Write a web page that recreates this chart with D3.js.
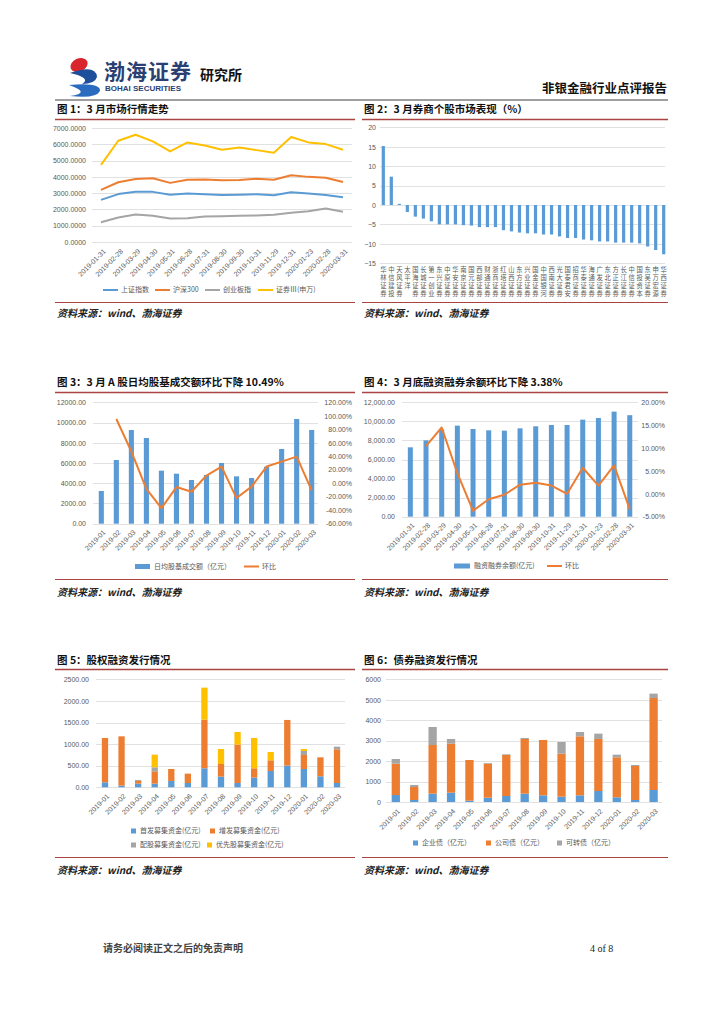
<!DOCTYPE html>
<html><head><meta charset="utf-8">
<script src="https://cdn.jsdelivr.net/npm/d3@7"></script>
<style>
body{margin:0;background:#fff;}
svg{display:block;}
</style></head><body>
<svg id="c" width="724" height="1024"></svg>
<script>
// ---------------- DATA ----------------
// Chart 1
const c1Dates = ["2019-01-31","2019-02-28","2019-03-29","2019-04-30","2019-05-31","2019-06-28","2019-07-31","2019-08-30","2019-09-30","2019-10-31","2019-11-29","2019-12-31","2020-01-23","2020-02-28","2020-03-31"];
const c1SH    = [2585,2941,3091,3078,2899,2979,2932,2886,2905,2929,2872,3050,2977,2880,2750];
const c1HS300 = [3201,3669,3872,3913,3630,3825,3835,3799,3814,3886,3828,4097,3999,3940,3686];
const c1CYB   = [1215,1503,1688,1606,1441,1460,1565,1585,1606,1626,1668,1791,1894,2059,1853];
const c1ZQ    = [4735,6218,6588,6177,5559,6115,5930,5662,5806,5641,5476,6444,6115,6012,5662];
const c1Names = ["上证指数","沪深300","创业板指","证券Ⅲ(申万)"];
const c1Ticks = [0,1000,2000,3000,4000,5000,6000,7000];

// Chart 2
const c2Names = ["华林证券","中信建投","天风证券","太平洋","国海证券","长城证券","第一创业","东兴证券","中原证券","华安证券","南京证券","国元证券","西部证券","财通证券","浙商证券","红塔证券","山西证券","东方证券","兴业证券","国金证券","中国银河","西南证券","光大证券","国泰君安","招商证券","华泰证券","海通证券","广发证券","东北证券","方正证券","长江证券","中信证券","国投资本","东吴证券","申万宏源","华西证券"];
const c2Vals = [15.2,7.3,0.3,-1.8,-3.0,-3.5,-4.2,-5.0,-5.0,-5.0,-5.2,-5.3,-5.7,-5.7,-5.7,-6.5,-6.8,-7.1,-7.3,-7.3,-7.6,-7.6,-8.1,-8.5,-8.5,-8.9,-9.1,-9.4,-9.4,-9.7,-9.7,-9.7,-9.9,-10.7,-11.6,-12.7];
const c2Ticks = [-15,-10,-5,0,5,10,15,20];

// Chart 3
const c3Months = ["2019-01","2019-02","2019-03","2019-04","2019-05","2019-06","2019-07","2019-08","2019-09","2019-10","2019-11","2019-12","2020-01","2020-02","2020-03"];
const c3Turnover = [3231,6297,9264,8473,5242,4945,4319,4813,6000,4681,4516,5637,7385,10352,9266];
const c3MoM = [null,95.3,47.0,-8.5,-37.0,-5.7,-12.7,11.4,24.7,-22.0,-5.0,24.7,32.0,39.5,-10.49];
const c3LeftTicks = [0,2000,4000,6000,8000,10000,12000];
const c3RightTicks = [-60,-40,-20,0,20,40,60,80,100,120];
const c3Names = ["日均股基成交额（亿元）","环比"];

// Chart 4
const c4Dates = ["2019-01-31","2019-02-28","2019-03-29","2019-04-30","2019-05-31","2019-06-28","2019-07-31","2019-08-30","2019-09-30","2019-10-31","2019-11-29","2019-12-31","2020-01-23","2020-02-28","2020-03-31"];
const c4Margin = [7277,8012,9166,9551,9201,9061,9026,9271,9481,9621,9621,10181,10356,11020,10648];
const c4MoM = [null,10.4,14.5,4.5,-3.7,-1.2,-0.2,2.0,2.4,1.8,0.0,5.7,1.8,6.2,-3.38];
const c4LeftTicks = [0,2000,4000,6000,8000,10000,12000];
const c4RightTicks = [-5,0,5,10,15,20];
const c4Names = ["融资融券余额(亿元)","环比"];

// Chart 5
const c5Months = ["2019-01","2019-02","2019-03","2019-04","2019-05","2019-06","2019-07","2019-08","2019-09","2019-10","2019-11","2019-12","2020-01","2020-02","2020-03"];
const c5IPO    = [116,39,85,85,147,100,440,247,100,224,378,502,424,255,100];
const c5SEO    = [1026,1141,62,285,277,216,1126,293,888,216,247,1057,324,439,780];
const c5Rights = [0,0,23,93,0,0,0,0,0,0,0,0,93,0,61];
const c5Pref   = [0,0,0,293,0,0,741,347,293,702,193,0,46,0,0];
const c5Names = ["首发募集资金(亿元)","增发募集资金(亿元)","配股募集资金(亿元)","优先股募集资金(亿元)"];
const c5Ticks = [0,500,1000,1500,2000,2500];

// Chart 6
const c6Months = ["2019-01","2019-02","2019-03","2019-04","2019-05","2019-06","2019-07","2019-08","2019-09","2019-10","2019-11","2019-12","2020-01","2020-02","2020-03"];
const c6Ent  = [342,98,408,457,65,212,293,408,326,261,326,538,228,98,587];
const c6Corp = [1533,636,2380,2396,1989,1663,2006,2674,2707,2103,2886,2544,1957,1663,4500];
const c6CB   = [228,98,880,229,0,33,33,48,0,571,212,260,130,49,212];
const c6Names = ["企业债（亿元）","公司债（亿元）","可转债（亿元）"];
const c6Ticks = [0,1000,2000,3000,4000,5000,6000];

// ---------------- STYLE ----------------
const FONT = "'Liberation Sans', Arial, sans-serif";
const CJK = "'Noto Sans CJK SC', 'Noto Sans', sans-serif";
const C = {blue:"#5b9bd5", orange:"#ed7d31", gray:"#a5a5a5", yellow:"#ffc000", red:"#a94442", grid:"#d9d9d9", tick:"#595959"};

const svg = d3.select("#c");

// ---------------- HELPERS ----------------
function grid(g, scale, ticks, xa, xb){
  g.append("g").selectAll("line").data(ticks).join("line")
    .attr("x1",xa).attr("x2",xb)
    .attr("y1",d=>Math.round(scale(d))+0.5).attr("y2",d=>Math.round(scale(d))+0.5)
    .attr("stroke",C.grid).attr("stroke-width",0.8);
}
function yAxis(g, scale, ticks, fmt, x){
  const a = g.append("g").attr("transform",`translate(${x},0)`)
    .call(d3.axisLeft(scale).tickValues(ticks).tickFormat(fmt).tickSize(0).tickPadding(0));
  a.select(".domain").remove();
  a.attr("font-family",FONT).attr("font-size",7);
  a.selectAll("text").attr("fill",C.tick);
}
function xRot(g, scale, y){
  const a = g.append("g").attr("transform",`translate(0,${y})`)
    .call(d3.axisBottom(scale).tickSize(0).tickPadding(0));
  a.select(".domain").remove();
  a.attr("font-family",FONT).attr("font-size",7);
  a.selectAll("text").attr("fill",C.tick).attr("y",0).attr("x",0).attr("dy","0.35em")
    .attr("text-anchor","end").attr("transform","translate(3,2) rotate(-45)");
}
function legLine(g, x, y, color, label){
  g.append("line").attr("x1",x).attr("x2",x+15).attr("y1",y).attr("y2",y)
    .attr("stroke",color).attr("stroke-width",2);
  g.append("text").attr("x",x+18).attr("y",y).attr("dy","0.35em")
    .attr("font-family",CJK).attr("font-size",7).attr("fill",C.tick).text(label);
}
function legRect(g, x, y, w, h, color, label){
  g.append("rect").attr("x",x).attr("y",y-h/2).attr("width",w).attr("height",h).attr("fill",color);
  g.append("text").attr("x",x+w+4).attr("y",y).attr("dy","0.35em")
    .attr("font-family",CJK).attr("font-size",7).attr("fill",C.tick).text(label);
}
function frame(x0, x1, titleY, ulY, srcLineY, srcY, title){
  svg.append("text").attr("x",x0+2).attr("y",titleY)
    .attr("font-family",CJK).attr("font-weight","bold").attr("font-size",10.5).attr("fill","#111").text(title);
  svg.append("line").attr("x1",x0).attr("x2",x1).attr("y1",ulY).attr("y2",ulY)
    .attr("stroke",C.red).attr("stroke-width",1.6);
  svg.append("line").attr("x1",x0).attr("x2",x1).attr("y1",srcLineY).attr("y2",srcLineY)
    .attr("stroke",C.red).attr("stroke-width",1.2);
  svg.append("text").attr("x",x0+2).attr("y",srcY)
    .attr("font-family",CJK).attr("font-style","italic").attr("font-weight","bold").attr("font-size",10).attr("fill","#222")
    .text("资料来源：wind、渤海证券");
}

// ---------------- HEADER ----------------
const hdr = svg.append("g");
hdr.append("ellipse").attr("cx",79).attr("cy",65).attr("rx",9).attr("ry",6.5)
  .attr("transform","rotate(-25,79,65)").attr("fill","#d9262c");
hdr.append("path").attr("d","M70,73 Q96,64 97,77 Q95,84 82,84 Q92,78 70,73 Z").attr("fill","#1d4f9c");
hdr.append("path").attr("d","M69,85 Q101,82 100,91 Q96,99 70,96 Q92,93 69,85 Z").attr("fill","#2a6bc0");
hdr.append("text").attr("x",104).attr("y",79).attr("font-family",CJK).attr("font-weight","bold")
  .attr("font-size",21).attr("fill","#2b3f73").attr("letter-spacing",1).text("渤海证券");
hdr.append("text").attr("x",105).attr("y",91).attr("font-family",FONT).attr("font-weight","bold")
  .attr("font-size",8).attr("fill","#2b3f73").text("BOHAI SECURITIES");
hdr.append("text").attr("x",200).attr("y",80).attr("font-family",CJK).attr("font-weight","bold")
  .attr("font-size",14).attr("fill","#111").text("研究所");
hdr.append("text").attr("x",667).attr("y",93).attr("text-anchor","end").attr("font-family",CJK)
  .attr("font-weight","bold").attr("font-size",12.5).attr("fill","#111").text("非银金融行业点评报告");
hdr.append("line").attr("x1",55).attr("x2",668).attr("y1",100).attr("y2",100)
  .attr("stroke","#7f7f7f").attr("stroke-width",1.5);

// frames
frame(55,355,113,119.5,302.5,317,"图 1：3 月市场行情走势");
frame(362,668,113,119.5,302.5,317,"图 2：3 月券商个股市场表现（%）");
frame(55,355,386,392.5,579.5,596,"图 3：3 月 A 股日均股基成交额环比下降 10.49%");
frame(362,668,386,392.5,579.5,596,"图 4：3 月底融资融券余额环比下降 3.38%");
frame(55,355,664,669.5,857.5,874,"图 5：股权融资发行情况");
frame(362,668,664,669.5,857.5,874,"图 6：债券融资发行情况");

// ---------------- CHART 1 ----------------
{
  const g = svg.append("g");
  const x = d3.scalePoint().domain(c1Dates).range([101,343]);
  const y = d3.scaleLinear().domain([0,7000]).range([242,128]);
  grid(g, y, c1Ticks, 92, 352);
  yAxis(g, y, c1Ticks, d3.format(".4f"), 86);
  xRot(g, x, 248);
  const series = [c1SH, c1HS300, c1CYB, c1ZQ];
  const cols = [C.blue, C.orange, C.gray, C.yellow];
  const line = d3.line().x((d,i)=>x(c1Dates[i])).y(d=>y(d));
  series.forEach((s,k)=>{
    g.append("path").datum(s).attr("d",line).attr("fill","none")
      .attr("stroke",cols[k]).attr("stroke-width",2).attr("stroke-linejoin","round");
  });
  const lx = [103,155,205,258];
  c1Names.forEach((n,k)=>legLine(g, lx[k], 290, cols[k], n));
}

// ---------------- CHART 2 ----------------
{
  const g = svg.append("g");
  const x = d3.scaleBand().domain(c2Names).range([379.3,667.7]).paddingInner(0.6).paddingOuter(0.3);
  const y = d3.scaleLinear().domain([-15,20]).range([263.2,127.4]);
  grid(g, y, c2Ticks, 380, 665);
  yAxis(g, y, c2Ticks, d3.format("d"), 376);
  g.append("g").selectAll("rect").data(c2Vals).join("rect")
    .attr("x",(d,i)=>x(c2Names[i])).attr("width",x.bandwidth())
    .attr("y",d=>y(Math.max(0,d))).attr("height",d=>Math.abs(y(d)-y(0)))
    .attr("fill",C.blue);
  const lab = g.append("g").attr("font-family",CJK).attr("font-size",6.3).attr("fill",C.tick);
  c2Names.forEach(n=>{
    const cx = x(n)+x.bandwidth()/2;
    Array.from(n).forEach((ch,i)=>{
      lab.append("text").attr("x",cx).attr("y",270+i*7.8).attr("dy","0.35em")
        .attr("text-anchor","middle").text(ch);
    });
  });
}

// ---------------- CHART 3 ----------------
{
  const g = svg.append("g");
  const x = d3.scaleBand().domain(c3Months).range([93.8,319.2]).paddingInner(0.66).paddingOuter(0.33);
  const yL = d3.scaleLinear().domain([0,12000]).range([523.7,402.3]);
  const yR = d3.scaleLinear().domain([-60,120]).range([523.7,402.3]);
  grid(g, yL, c3LeftTicks, 93, 318);
  yAxis(g, yL, c3LeftTicks, d3.format(".2f"), 86);
  yAxis(g, yR, c3RightTicks, d=>d.toFixed(2)+"%", 352);
  g.append("g").selectAll("rect").data(c3Turnover).join("rect")
    .attr("x",(d,i)=>x(c3Months[i])).attr("width",x.bandwidth())
    .attr("y",d=>yL(d)).attr("height",d=>yL(0)-yL(d)).attr("fill",C.blue);
  const line = d3.line().defined(d=>d!==null)
    .x((d,i)=>x(c3Months[i])+x.bandwidth()/2).y(d=>yR(d));
  g.append("path").datum(c3MoM).attr("d",line).attr("fill","none")
    .attr("stroke",C.orange).attr("stroke-width",2).attr("stroke-linejoin","round");
  xRot(g, x, 529);
  legRect(g, 135, 566.5, 15, 5, C.blue, c3Names[0]);
  legLine(g, 244, 566.5, C.orange, c3Names[1]);
}

// ---------------- CHART 4 ----------------
{
  const g = svg.append("g");
  const x = d3.scaleBand().domain(c4Dates).range([402.5,637.6]).paddingInner(0.68).paddingOuter(0.34);
  const yL = d3.scaleLinear().domain([0,12000]).range([516.7,402.3]);
  const yR = d3.scaleLinear().domain([-5,20]).range([516.7,402.3]);
  grid(g, yL, c4LeftTicks, 402, 638);
  yAxis(g, yL, c4LeftTicks, d3.format(",.2f"), 395);
  yAxis(g, yR, c4RightTicks, d=>d.toFixed(2)+"%", 665);
  g.append("g").selectAll("rect").data(c4Margin).join("rect")
    .attr("x",(d,i)=>x(c4Dates[i])).attr("width",x.bandwidth())
    .attr("y",d=>yL(d)).attr("height",d=>yL(0)-yL(d)).attr("fill",C.blue);
  const line = d3.line().defined(d=>d!==null)
    .x((d,i)=>x(c4Dates[i])+x.bandwidth()/2).y(d=>yR(d));
  g.append("path").datum(c4MoM).attr("d",line).attr("fill","none")
    .attr("stroke",C.orange).attr("stroke-width",2).attr("stroke-linejoin","round");
  xRot(g, x, 522);
  legRect(g, 454, 566, 16, 5, C.blue, c4Names[0]);
  legLine(g, 547, 566, C.orange, c4Names[1]);
}

// ---------------- CHART 5 ----------------
{
  const g = svg.append("g");
  const x = d3.scaleBand().domain(c5Months).range([96.7,345.3]).paddingInner(0.62).paddingOuter(0.31);
  const y = d3.scaleLinear().domain([0,2500]).range([787.3,679.3]);
  grid(g, y, c5Ticks, 96, 345);
  yAxis(g, y, c5Ticks, d3.format(".2f"), 89);
  const keys = ["ipo","seo","rights","pref"];
  const table = c5Months.map((m,i)=>({m, ipo:c5IPO[i], seo:c5SEO[i], rights:c5Rights[i], pref:c5Pref[i]}));
  const stack = d3.stack().keys(keys)(table);
  const cols = [C.blue, C.orange, C.gray, C.yellow];
  stack.forEach((s,k)=>{
    g.append("g").attr("fill",cols[k]).selectAll("rect").data(s).join("rect")
      .attr("x",d=>x(d.data.m)).attr("width",x.bandwidth())
      .attr("y",d=>y(d[1])).attr("height",d=>y(d[0])-y(d[1]));
  });
  xRot(g, x, 793);
  legRect(g, 131, 831, 5, 5, cols[0], c5Names[0]);
  legRect(g, 210, 831, 5, 5, cols[1], c5Names[1]);
  legRect(g, 131, 845, 5, 5, cols[2], c5Names[2]);
  legRect(g, 207, 845, 5, 5, cols[3], c5Names[3]);
}

// ---------------- CHART 6 ----------------
{
  const g = svg.append("g");
  const x = d3.scaleBand().domain(c6Months).range([386.5,662.9]).paddingInner(0.55).paddingOuter(0.28);
  const y = d3.scaleLinear().domain([0,6000]).range([802,679.3]);
  grid(g, y, c6Ticks, 386, 662);
  yAxis(g, y, c6Ticks, d3.format("d"), 381);
  const keys = ["ent","corp","cb"];
  const table = c6Months.map((m,i)=>({m, ent:c6Ent[i], corp:c6Corp[i], cb:c6CB[i]}));
  const stack = d3.stack().keys(keys)(table);
  const cols = [C.blue, C.orange, C.gray];
  stack.forEach((s,k)=>{
    g.append("g").attr("fill",cols[k]).selectAll("rect").data(s).join("rect")
      .attr("x",d=>x(d.data.m)).attr("width",x.bandwidth())
      .attr("y",d=>y(d[1])).attr("height",d=>y(d[0])-y(d[1]));
  });
  xRot(g, x, 808);
  legRect(g, 413, 843, 5, 5, cols[0], c6Names[0]);
  legRect(g, 486, 843, 5, 5, cols[1], c6Names[1]);
  legRect(g, 557, 843, 5, 5, cols[2], c6Names[2]);
}

// ---------------- FOOTER ----------------
svg.append("text").attr("x",103).attr("y",952).attr("font-family",CJK).attr("font-weight","bold")
  .attr("font-size",10).attr("fill","#444").text("请务必阅读正文之后的免责声明");
svg.append("text").attr("x",590).attr("y",952).attr("font-family","'Liberation Serif', serif")
  .attr("font-size",10).attr("fill","#222").text("4 of 8");
</script>
</body></html>
